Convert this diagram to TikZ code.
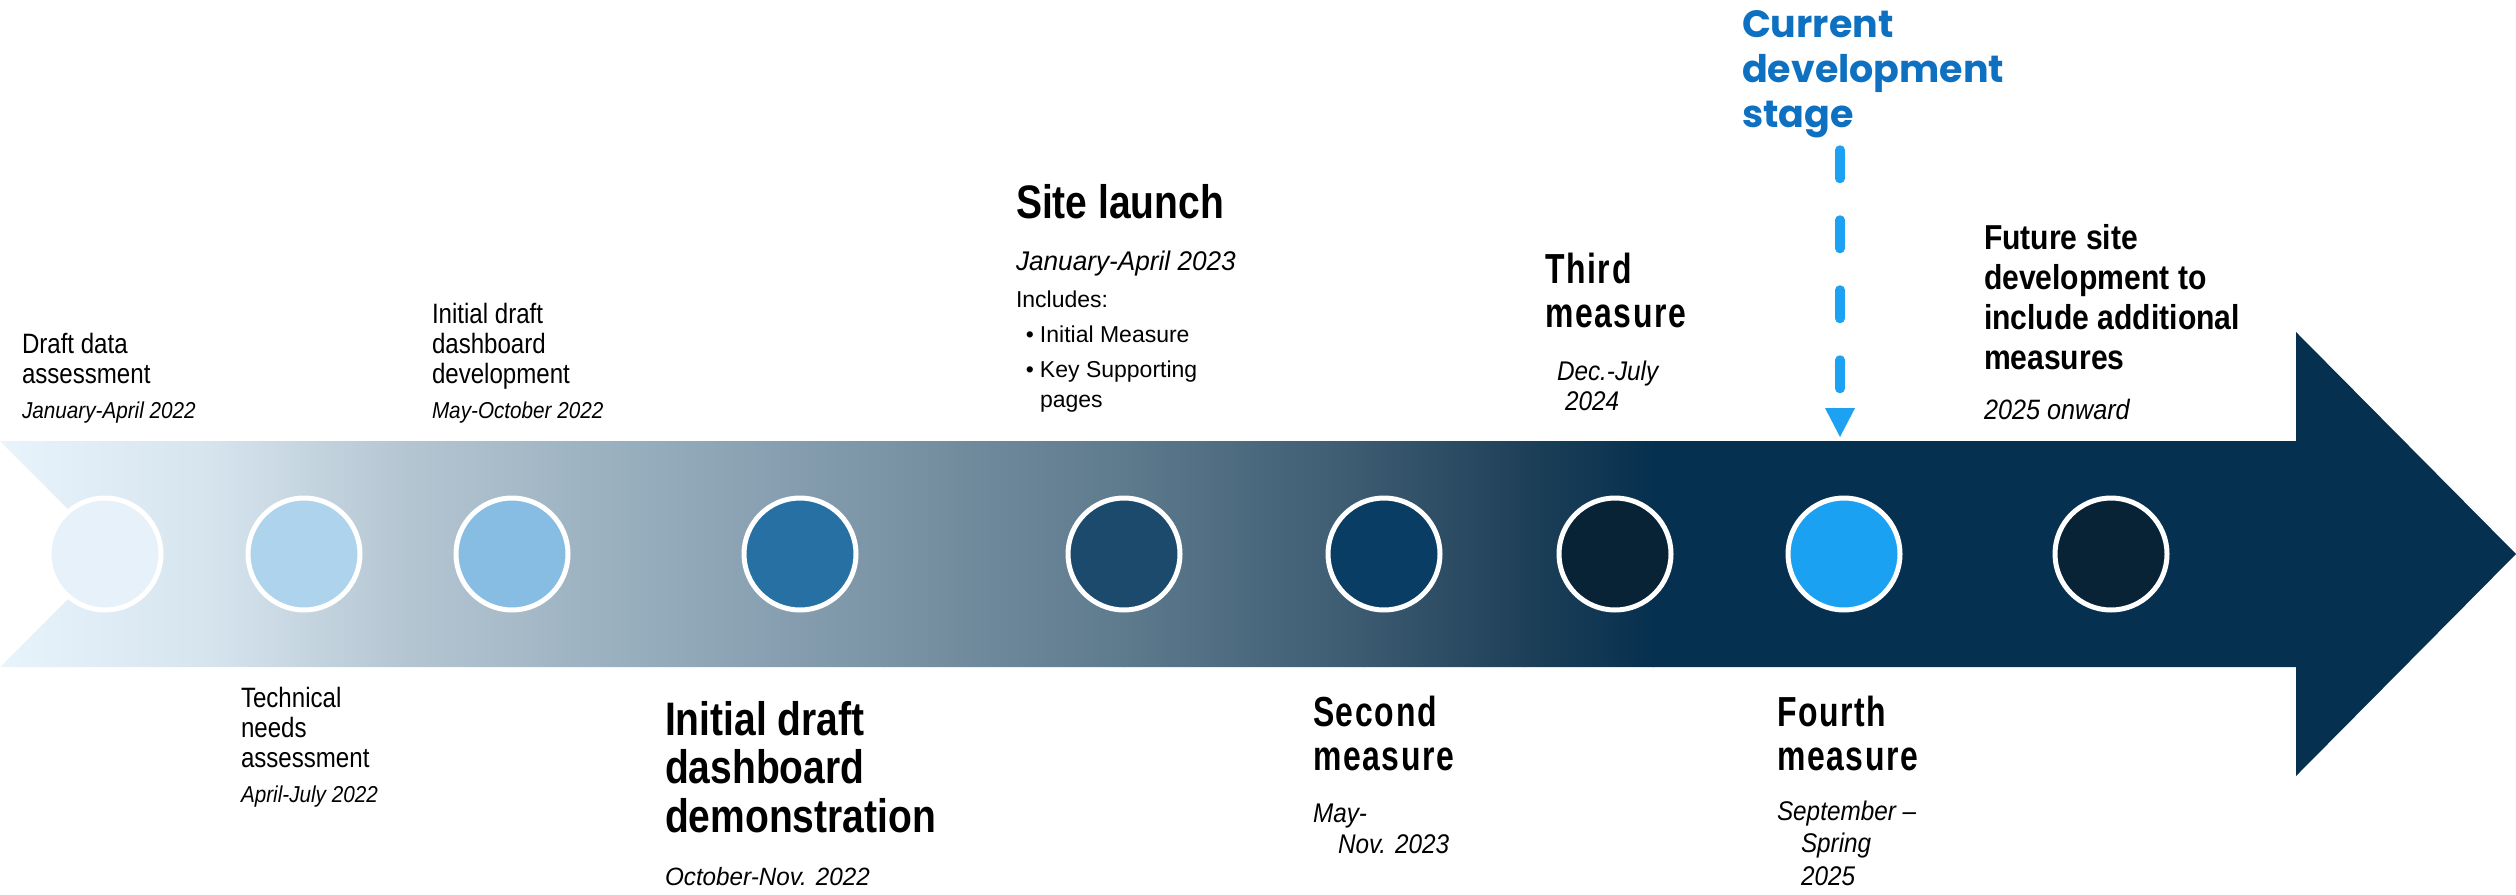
\documentclass[tikz,border=0pt]{standalone}
\usepackage{fontspec}
\setmainfont{Liberation Sans}
\newfontfamily\fReg{Liberation Sans}
\newfontfamily\fNar[FakeStretch=0.86]{Liberation Sans}
\newfontfamily\fIt[FakeStretch=0.9]{Liberation Sans}
\newfontfamily\fItw[FakeStretch=0.97]{Liberation Sans}
\newfontfamily\fBig[FakeStretch=0.83]{Liberation Sans}
\newfontfamily\fMeas[FakeStretch=0.76,LetterSpace=4]{Liberation Sans}
\newfontfamily\fFut[FakeStretch=0.87]{Liberation Sans}
\newfontfamily\fPop{Poppins}
\usetikzlibrary{arrows.meta}
\definecolor{g0}{HTML}{E8F4FC}
\definecolor{g1}{HTML}{D6E4EE}
\definecolor{g2}{HTML}{B5C6D2}
\definecolor{g3}{HTML}{96ADBD}
\definecolor{g4}{HTML}{7B94A6}
\definecolor{g5}{HTML}{5E7A8D}
\definecolor{g6}{HTML}{3B5A70}
\definecolor{g7}{HTML}{1E4058}
\definecolor{navy}{HTML}{06304F}
\definecolor{k1}{HTML}{E7F1F9}
\definecolor{k2}{HTML}{AED3EC}
\definecolor{k3}{HTML}{88BDE3}
\definecolor{k4}{HTML}{2770A3}
\definecolor{k5}{HTML}{1C4A6D}
\definecolor{k6}{HTML}{0A3D63}
\definecolor{k7}{HTML}{082236}
\definecolor{k8}{HTML}{1BA1F2}
\definecolor{curblue}{HTML}{0E70C0}
\definecolor{dashblue}{HTML}{1DA1F2}
\begin{document}
\begin{tikzpicture}[x=0.5pt,y=-0.5pt,
  lbl/.style={anchor=base west, inner sep=0pt, outer sep=0pt, align=left, text=black},
  small/.style={lbl, font=\fNar\fontsize{14}{15}\selectfont},
  dsmall/.style={lbl, font=\fIt\itshape\fontsize{11.5}{15}\selectfont},
  dwide/.style={lbl, font=\fItw\itshape\fontsize{13.5}{15}\selectfont},
  dmid/.style={lbl, font=\fIt\itshape\fontsize{13.5}{15.5}\selectfont},
  bigtitle/.style={lbl, font=\fBig\bfseries\fontsize{23.5}{24.25}\selectfont},
  meastitle/.style={lbl, font=\fMeas\bfseries\fontsize{21}{21.75}\selectfont},
  futtitle/.style={lbl, font=\fFut\bfseries\fontsize{17.3}{19.9}\selectfont},
  regtext/.style={lbl, font=\fReg\fontsize{11.5}{15}\selectfont},
  curtext/.style={lbl, text=curblue, font=\fPop\bfseries\fontsize{19}{22.5}\selectfont},
  dot/.style={circle, draw=white, line width=2.5pt, minimum size=56pt, inner sep=0pt},
  cdash/.style={draw=dashblue, line width=4.75pt, line cap=round, dash pattern=on 14.25pt off 20.75pt}
]
\useasboundingbox (0,0) rectangle (2516,894);
% arrow band
\begin{scope}
\clip (0,441) -- (2296,441) -- (2296,332) -- (2516,554) -- (2296,776) -- (2296,667) -- (0,667) -- (113,554) -- cycle;
\shade[left color=g0, right color=g1] (0,330) rectangle (210,780);
\shade[left color=g1, right color=g2] (209,330) rectangle (402,780);
\shade[left color=g2, right color=g3] (401,330) rectangle (643,780);
\shade[left color=g3, right color=g4] (642,330) rectangle (884,780);
\shade[left color=g4, right color=g5] (883,330) rectangle (1124,780);
\shade[left color=g5, right color=g6] (1123,330) rectangle (1365,780);
\shade[left color=g6, right color=g7] (1364,330) rectangle (1525,780);
\shade[left color=g7, right color=navy] (1524,330) rectangle (1654,780);
\fill[navy] (1653,330) rectangle (2520,780);
\end{scope}
% circles
\node[dot, fill=k1] (c1) at (105,554) {};
\node[dot, fill=k2] (c2) at (304,554) {};
\node[dot, fill=k3] (c3) at (512,554) {};
\node[dot, fill=k4] (c4) at (800,554) {};
\node[dot, fill=k5] (c5) at (1124,554) {};
\node[dot, fill=k6] (c6) at (1384,554) {};
\node[dot, fill=k7] (c7) at (1615,554) {};
\node[dot, fill=k8] (c8) at (1844,554) {};
\node[dot, fill=k7] (c9) at (2111,554) {};
% labels (multi-line nodes are placed at the baseline of their last line)
\node[small] (t1) at (22,383) {Draft data\\assessment};
\node[dsmall] (d1) at (22,418) {January-April 2022};
\node[small] (t2) at (241,767) {Technical\\needs\\assessment};
\node[dsmall] (d2) at (241,802) {April-July 2022};
\node[small] (t3) at (432,383) {Initial draft\\dashboard\\development};
\node[dsmall] (d3) at (432,418) {May-October 2022};
\node[bigtitle] (t4) at (665,832) {Initial draft\\dashboard\\demonstration};
\node[dwide, font=\fItw\itshape\fontsize{12.5}{15}\selectfont] (d4) at (665,885) {October-Nov. 2022};
\node[bigtitle] (t5) at (1016,218) {Site launch};
\node[dwide] (d5) at (1016,270) {January-April 2023};
\node[regtext] (i5) at (1016,307) {Includes:};
\node[regtext] (b5) at (1040,407) {\llap{\textbullet\hspace{3pt}}Initial Measure\\[2.5pt]\llap{\textbullet\hspace{3pt}}Key Supporting\\pages};
\node[meastitle] (t6) at (1313,770) {Second\\measure};
\node[dmid] (d6) at (1313,853) {May-\\\hspace*{12.5pt}Nov. 2023};
\node[meastitle] (t7) at (1545,327) {Third\\measure};
\node[dmid, font=\fIt\itshape\fontsize{13.5}{15}\selectfont] (d7) at (1557,410) {Dec.-July\\\hspace*{4pt}2024};
\node[meastitle] (t8) at (1777,770) {Fourth\\measure};
\node[dmid, font=\fIt\itshape\fontsize{13.5}{16.25}\selectfont] (d8) at (1777,885) {September \textendash\\\hspace*{12pt}Spring\\\hspace*{12pt}2025};
\node[futtitle] (t9) at (1984,369) {Future site\\development to\\include additional\\measures};
\node[dmid, font=\fIt\itshape\fontsize{14}{15}\selectfont] (d9) at (1984,419) {2025 onward};
\node[curtext] (cur) at (1742,127) {Current\\development\\stage};
% current stage pointer
\coordinate (ds) at (1840,150);
\coordinate (de) at (1840,437);
\draw[cdash, -{Triangle[length=14.5pt, width=15pt, line width=0pt]}] (ds) -- (de);
\end{tikzpicture}
\end{document}
